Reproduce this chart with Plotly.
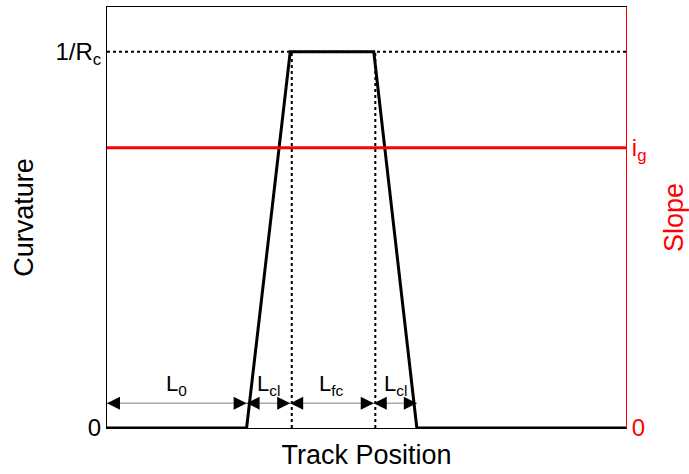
import plotly.graph_objects as go

# Data
curve_x = [0, 26.9, 35.3, 51.4, 59.7, 100]
curve_y = [0, 0, 1, 1, 0, 0]
slope_x = [0, 100]
slope_y = [0.745, 0.745]
segment_bounds = [0, 26.9, 35.3, 51.4, 59.7]
segment_labels = ["L<sub>0</sub>", "L<sub>cl</sub>", "L<sub>fc</sub>", "L<sub>cl</sub>"]
curv_ticks = [0, 1]
curv_ticklabels = ["0", "1/R<sub>c</sub>"]
slope_ticks = [0, 0.745]
slope_ticklabels = ["0", "i<sub>g</sub>"]
arrow_y = 0.066
label_y = 0.115
y_max = 1.119

FONT = "Arial, Liberation Sans, sans-serif"

fig = go.Figure()

# dotted reference lines
fig.add_trace(go.Scatter(x=[0, 100], y=[1, 1], mode="lines",
                         line=dict(color="black", width=2, dash="dot"), showlegend=False))
for xv in [segment_bounds[2], segment_bounds[3]]:
    fig.add_trace(go.Scatter(x=[xv + 0.3, xv + 0.3], y=[0, 1], mode="lines",
                             line=dict(color="black", width=2, dash="dot"), showlegend=False))

# slope (red)
fig.add_trace(go.Scatter(x=slope_x, y=slope_y, mode="lines", yaxis="y2",
                         line=dict(color="red", width=3), showlegend=False))

# curvature
fig.add_trace(go.Scatter(x=curve_x, y=curve_y, mode="lines",
                         line=dict(color="black", width=3), showlegend=False))

# dimension lines (gray)
fig.add_trace(go.Scatter(x=[segment_bounds[0], segment_bounds[-1]], y=[arrow_y, arrow_y],
                         mode="lines", line=dict(color="#808080", width=1), showlegend=False))

# arrowheads
left_x = segment_bounds[:-1]
right_x = segment_bounds[1:]
fig.add_trace(go.Scatter(x=left_x, y=[arrow_y] * len(left_x), mode="markers",
                         marker=dict(symbol="arrow-left", size=13, color="black",
                                     line=dict(width=0)), showlegend=False))
fig.add_trace(go.Scatter(x=right_x, y=[arrow_y] * len(right_x), mode="markers",
                         marker=dict(symbol="arrow-right", size=13, color="black",
                                     line=dict(width=0)), showlegend=False))

annotations = []
for i in range(len(segment_labels)):
    a, b = segment_bounds[i], segment_bounds[i + 1]
    annotations.append(dict(x=(a + b) / 2, y=label_y, xref="x", yref="y",
                            text=segment_labels[i], showarrow=False,
                            font=dict(family=FONT, size=22, color="black")))

fig.update_layout(
    width=689, height=474,
    margin=dict(l=107, r=61, t=6, b=46),
    plot_bgcolor="white", paper_bgcolor="white",
    font=dict(family=FONT, size=24, color="black"),
    xaxis=dict(range=[0, 100], showticklabels=False, ticks="", showgrid=False,
               zeroline=False, showline=True, linecolor="black", linewidth=1, mirror=True,
               title=dict(text="Track Position", font=dict(size=27), standoff=17)),
    yaxis=dict(range=[0, y_max], tickvals=curv_ticks, ticktext=curv_ticklabels,
               ticks="", showgrid=False, zeroline=False, showline=True,
               linecolor="black", linewidth=1, tickfont=dict(size=24),
               title=dict(text="Curvature", font=dict(size=27), standoff=14)),
    yaxis2=dict(range=[0, y_max], overlaying="y", side="right", tickvals=slope_ticks,
                ticktext=slope_ticklabels, ticks="", showgrid=False, zeroline=False,
                showline=True, linecolor="red", linewidth=1,
                tickfont=dict(color="red", size=24),
                title=dict(text="Slope", font=dict(size=27, color="red"), standoff=18)),
    annotations=annotations,
)

fig.write_html("out.html")
